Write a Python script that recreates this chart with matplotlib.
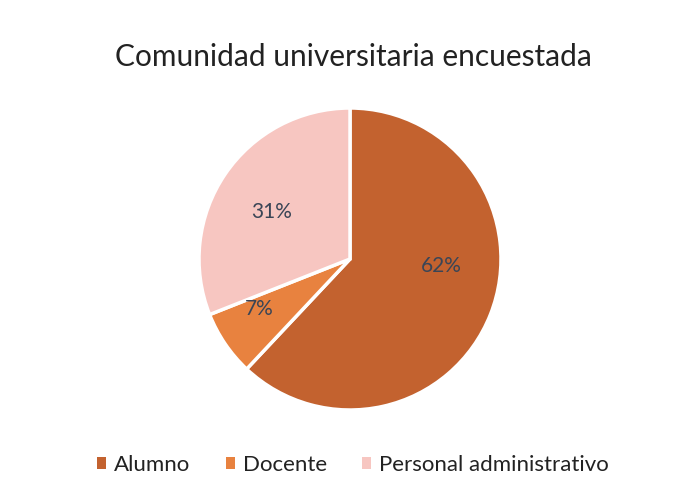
import matplotlib
matplotlib.use("Agg")
import matplotlib.pyplot as plt

categories = ["Alumno", "Docente", "Personal administrativo"]
values = [62, 7, 31]
colors = ["#C3622F", "#E8823F", "#F7C6C1"]
title = "Comunidad universitaria encuestada"

W, H = 673, 497
fig = plt.figure(figsize=(W / 100, H / 100), dpi=100)
fig.patch.set_facecolor("white")

cx, cy, r = 350, 259, 151
ax = fig.add_axes([(cx - r) / W, (H - cy - r) / H, 2 * r / W, 2 * r / H])
wedges, texts, autotexts = ax.pie(
    values, colors=colors, startangle=90, counterclock=False,
    autopct="%1.0f%%", pctdistance=0.6,
    wedgeprops=dict(edgecolor="white", linewidth=2.5),
    textprops=dict(color="#3A4556", fontsize=15, family="Lato"),
)
label_pos = [(0.603, -0.046), (-0.603, -0.331), (-0.517, 0.311)]
for t, p in zip(autotexts, label_pos):
    t.set_position(p)
    t.set_ha("center")
    t.set_va("center")
ax.set_xlim(-1, 1)
ax.set_ylim(-1, 1)
ax.set_aspect("auto")
ax.axis("off")

fig.text(353 / W, 1 - 57 / H, title, ha="center", va="center",
         fontsize=21.5, family="Lato", color="#222222")

leg = fig.legend(wedges, categories, loc="center", bbox_to_anchor=(353 / W, 1 - 465 / H),
                 ncol=3, frameon=False, prop=dict(family="Lato", size=16),
                 handlelength=0.4, handleheight=0.4, handletextpad=0.35, columnspacing=1.6)
for h in leg.legend_handles:
    h.set_edgecolor("none")
for t in leg.get_texts():
    t.set_color("#222222")

fig.savefig("out.png", dpi=100)
